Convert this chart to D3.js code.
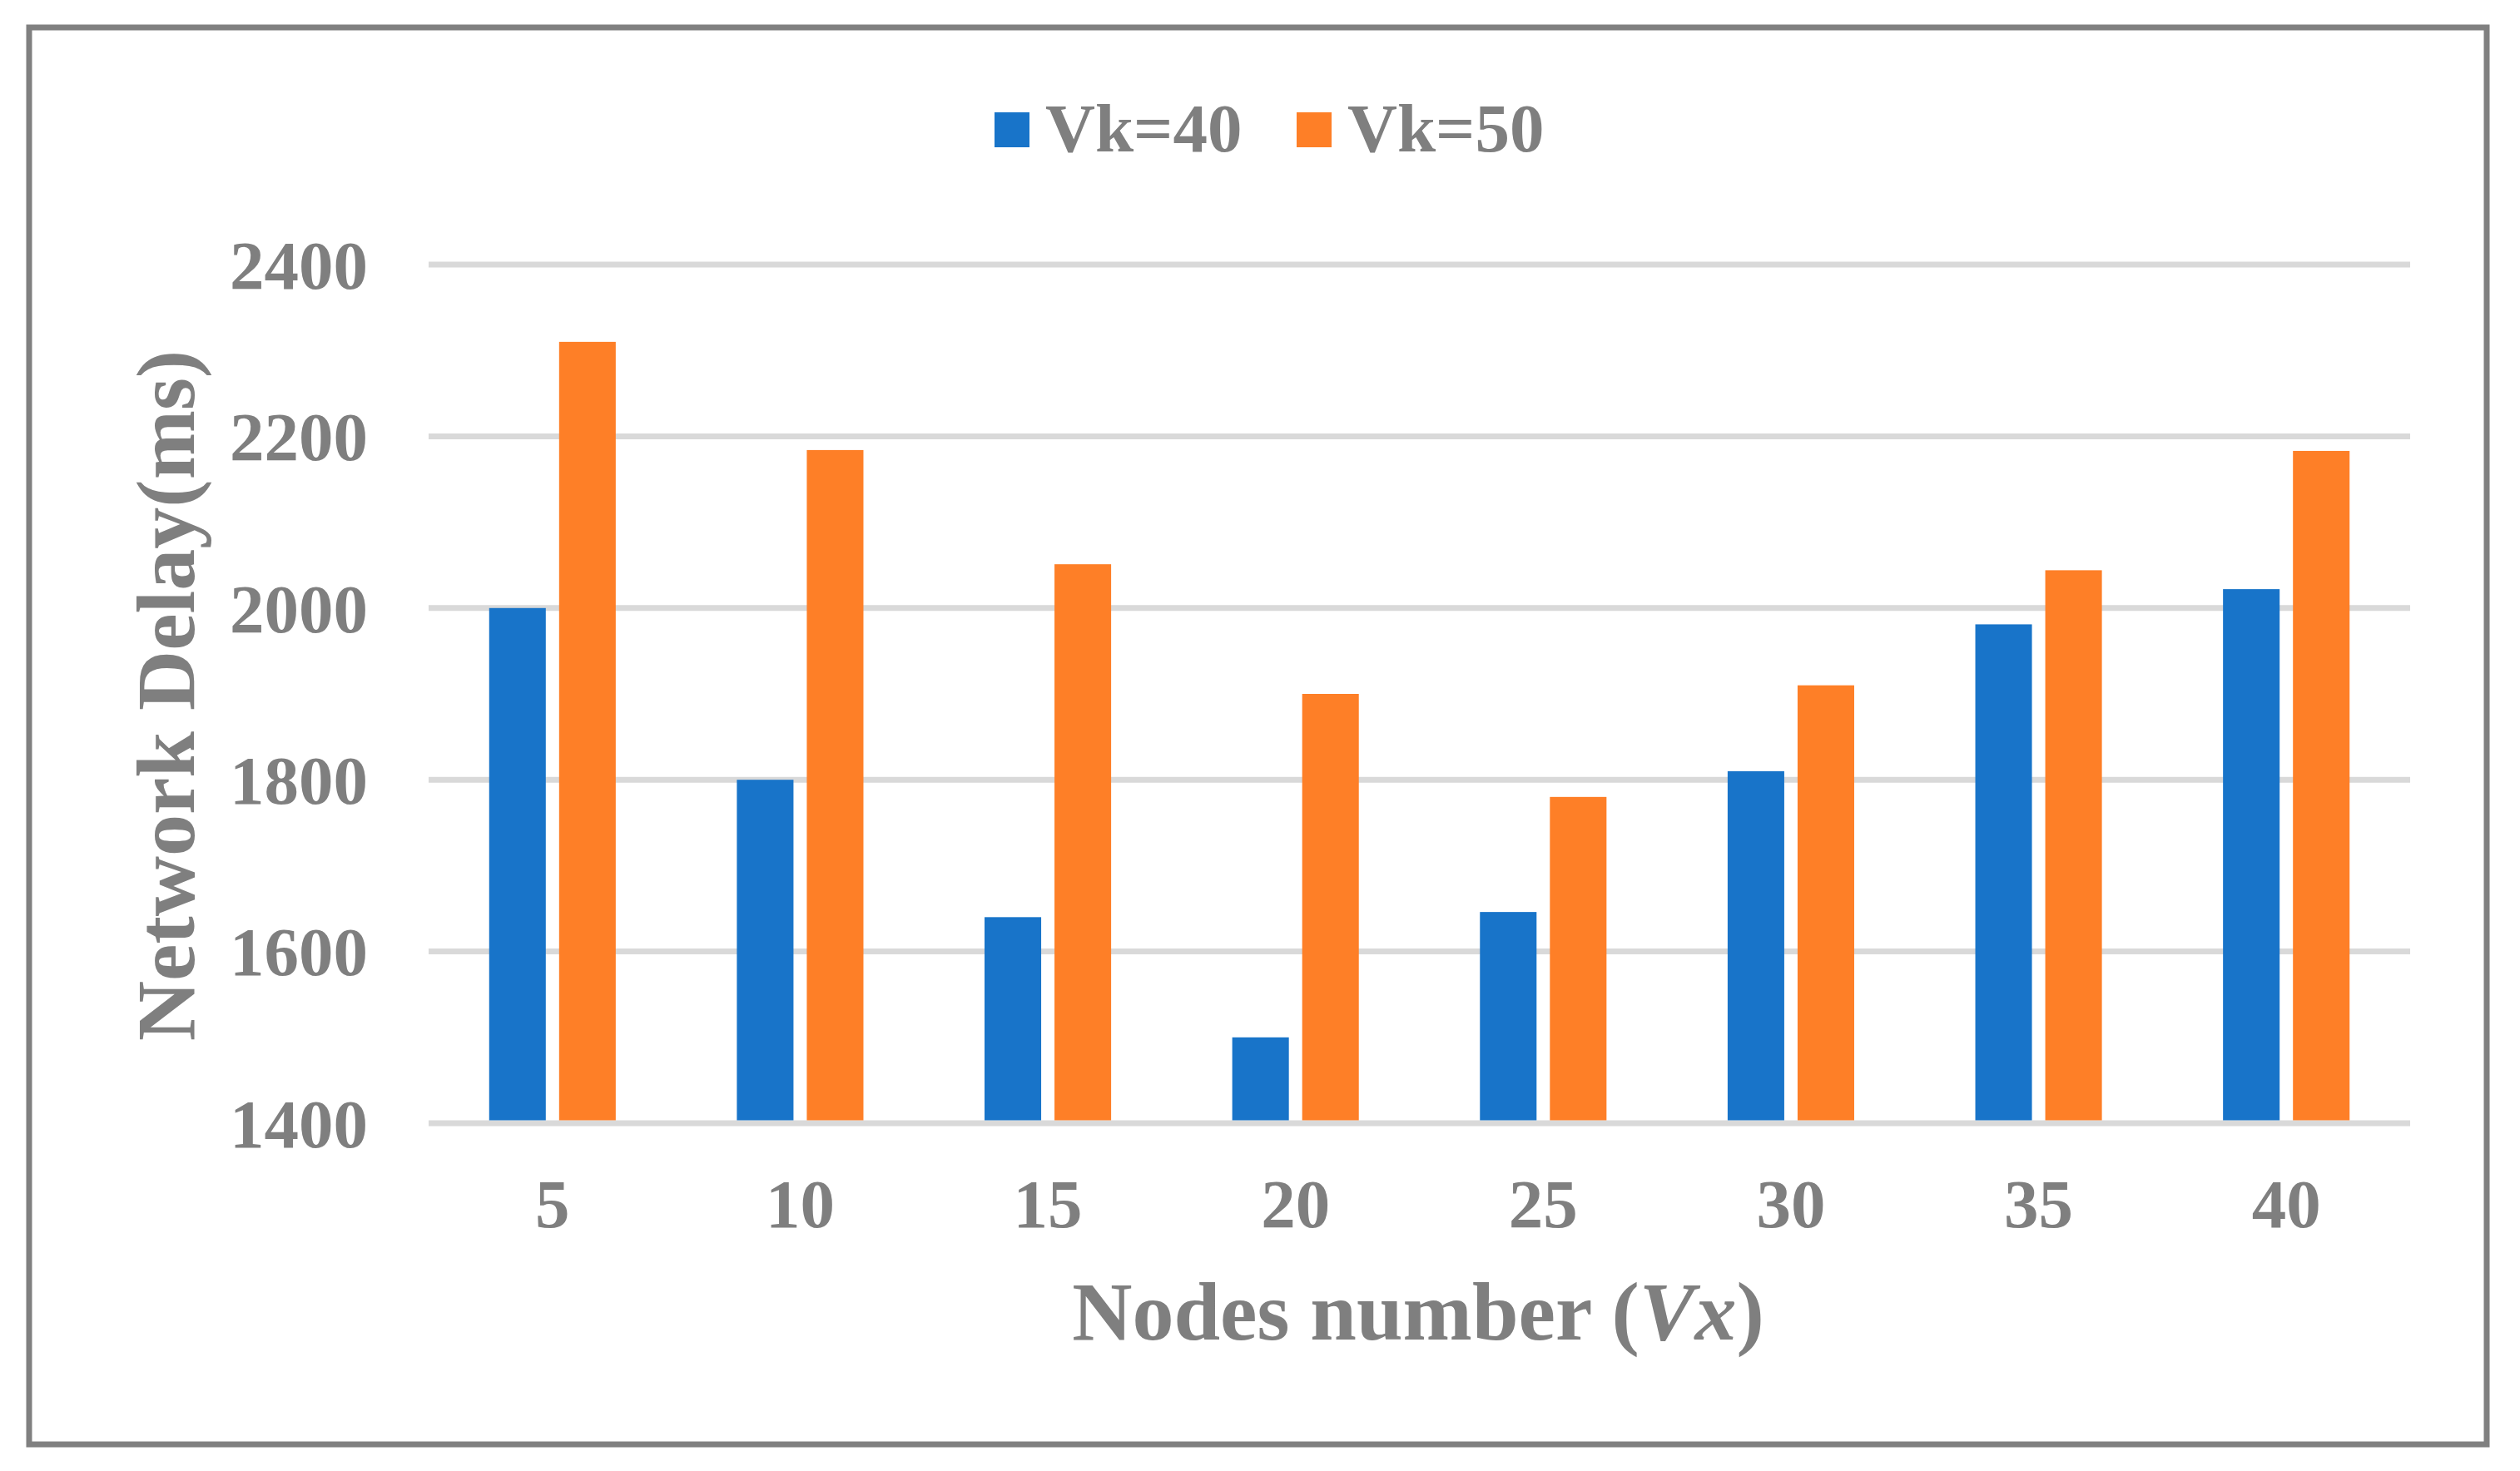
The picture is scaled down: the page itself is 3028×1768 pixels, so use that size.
<!DOCTYPE html>
<html>
<head>
<meta charset="utf-8">
<script src="https://cdn.jsdelivr.net/npm/d3@7"></script>
<style>
  html, body { margin: 0; padding: 0; background: #ffffff; }
  svg { display: block; }
  text { font-family: "Liberation Serif", "Times New Roman", serif; font-weight: bold; fill: #7f7f7f; }
</style>
</head>
<body>
<svg id="chart" width="3028" height="1768"></svg>
<script>
// ---- Data ----
const categories = ["5", "10", "15", "20", "25", "30", "35", "40"];
const seriesNames = ["Vk=40", "Vk=50"];
const vk40 = [2000, 1800, 1640, 1500, 1646, 1810, 1981, 2022];
const vk50 = [2310, 2184, 2051, 1900, 1780, 1910, 2044, 2183];
const yTicks = [1400, 1600, 1800, 2000, 2200, 2400];
const colors = ["#1874c9", "#fe7f27"];

const seriesValues = [vk40, vk50];
const rows = categories.map((c, i) => ({ cat: c, values: seriesValues.map(s => s[i]) }));

const svg = d3.select("#chart");
const W = 3028, H = 1768;
const plot = { left: 515, right: 2896, top: 318, bottom: 1350 };

svg.append("rect").attr("x", 0).attr("y", 0).attr("width", W).attr("height", H).attr("fill", "#ffffff");

// outer border
svg.append("rect")
  .attr("x", 35).attr("y", 33)
  .attr("width", 2988 - 35).attr("height", 1736 - 33)
  .attr("fill", "none").attr("stroke", "#808080").attr("stroke-width", 7);

const x0 = d3.scaleBand().domain(categories).range([plot.left, plot.right]).paddingInner(0.489).paddingOuter(0.2445);
const x1 = d3.scaleBand().domain(seriesNames).range([0, x0.bandwidth()]).paddingInner(0.1905);
const y = d3.scaleLinear().domain([1400, 2400]).range([plot.bottom, plot.top]);

// gridlines
const grid = svg.append("g");
grid.selectAll("line").data(yTicks).join("line")
  .attr("x1", plot.left).attr("x2", plot.right)
  .attr("y1", d => y(d)).attr("y2", d => y(d))
  .attr("stroke", "#d9d9d9").attr("stroke-width", 7);

// bars
const groups = svg.append("g").selectAll("g").data(rows).join("g")
  .attr("transform", d => `translate(${x0(d.cat)},0)`);
groups.selectAll("rect").data(d => d.values.map((v, k) => ({ k, v }))).join("rect")
  .attr("x", d => x1(seriesNames[d.k]))
  .attr("width", x1.bandwidth())
  .attr("y", d => y(d.v))
  .attr("height", d => y(1400) - y(d.v) - 3.5)
  .attr("fill", d => colors[d.k]);

// y axis labels
const yAxis = d3.axisLeft(y).tickValues(yTicks).tickSize(0).tickPadding(0).tickFormat(d3.format("d"));
const yg = svg.append("g").attr("transform", `translate(442,0)`).call(yAxis);
yg.select(".domain").remove();
yg.selectAll("text")
  .attr("x", 0).attr("dy", "0.34em")
  .style("font-size", "83px").style("font-family", "Liberation Serif, Times New Roman, serif")
  .style("font-weight", "bold").attr("fill", "#7f7f7f");

// x axis labels
const xAxis = d3.axisBottom(x0).tickSize(0).tickPadding(0);
const xg = svg.append("g").attr("transform", `translate(0,1475)`).call(xAxis);
xg.select(".domain").remove();
xg.selectAll("text")
  .attr("y", 0).attr("dy", 0)
  .style("font-size", "83px").style("font-family", "Liberation Serif, Times New Roman, serif")
  .style("font-weight", "bold").attr("fill", "#7f7f7f");

// y title
svg.append("text")
  .attr("transform", `translate(233,836) rotate(-90)`)
  .attr("text-anchor", "middle")
  .style("font-size", "100px")
  .text("Network Delay(ms)");

// x title
const xt = svg.append("text")
  .attr("x", 1704).attr("y", 1610)
  .attr("text-anchor", "middle")
  .style("font-size", "100px");
xt.append("tspan").text("Nodes number (");
xt.append("tspan").style("font-style", "italic").text("Vx");
xt.append("tspan").text(")");

// legend
const legendX = [1195, 1558];
const lg = svg.append("g").selectAll("g").data(seriesNames).join("g")
  .attr("transform", (d, i) => `translate(${legendX[i]},135)`);
lg.append("rect").attr("width", 42).attr("height", 42).attr("fill", (d, i) => colors[i]);
lg.append("text").attr("x", 61).attr("y", 47).style("font-size", "83px").text(d => d);
</script>
</body>
</html>
